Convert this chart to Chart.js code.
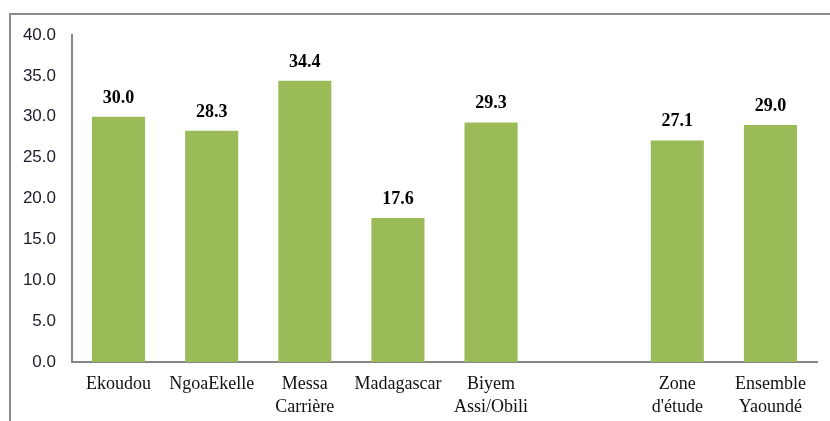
<!DOCTYPE html>
<html>
<head>
<meta charset="utf-8">
<script src="https://cdn.jsdelivr.net/npm/chart.js@4.4.0/dist/chart.umd.min.js"></script>
<style>
  html, body { margin: 0; padding: 0; background: #fff; }
  #wrap { position: relative; width: 830px; height: 421px; overflow: hidden; }
  #frame { position: absolute; left: 9px; top: 13px; width: 840px; height: 430px;
           border-top: 2px solid #8c8c8c; border-left: 2px solid #8c8c8c; }
  #chart { position: absolute; left: 0; top: 0; }
</style>
</head>
<body>
<div id="wrap">
  <div id="frame"></div>
  <canvas id="chart" width="830" height="421"></canvas>
</div>
<script>
// Neighbourhoods (blank slot separates the study zone totals)
const quartiers = [
    ['Ekoudou'],
    ['NgoaEkelle'],
    ['Messa', 'Carrière'],
    ['Madagascar'],
    ['Biyem', 'Assi/Obili'],
    [''],
    ['Zone', "d'étude"],
    ['Ensemble', 'Yaoundé']
];
const valeurs = [30.0, 28.3, 34.4, 17.6, 29.3, null, 27.1, 29.0];

const yMin = 0;
const yMax = 40;
const yStep = 5;

const barColor = '#9bbb59';
const axisColor = '#868686';

// Bold value printed above each bar
const valueLabels = {
    id: 'valueLabels',
    afterDatasetsDraw(chart) {
        const ctx = chart.ctx;
        const meta = chart.getDatasetMeta(0);
        ctx.save();
        ctx.font = 'bold 18px "Liberation Serif", serif';
        ctx.fillStyle = '#000';
        ctx.textAlign = 'center';
        ctx.textBaseline = 'alphabetic';
        meta.data.forEach((bar, i) => {
            const v = valeurs[i];
            if (v === null) return;
            ctx.fillText(v.toFixed(1), bar.x, bar.y - 14);
        });
        ctx.restore();
    }
};

const chart = new Chart(document.getElementById('chart').getContext('2d'), {
    type: 'bar',
    data: {
        labels: quartiers,
        datasets: [{
            data: valeurs,
            backgroundColor: barColor,
            borderWidth: 0,
            barPercentage: 0.57,
            categoryPercentage: 1.0
        }]
    },
    options: {
        responsive: false,
        animation: false,
        layout: {
            padding: { top: 35, right: 13, bottom: 0, left: 0 }
        },
        plugins: {
            legend: { display: false },
            tooltip: { enabled: false }
        },
        scales: {
            x: {
                grid: { display: false, drawTicks: false },
                border: { display: true, color: axisColor, width: 2 },
                ticks: {
                    autoSkip: false,
                    maxRotation: 0,
                    padding: 11,
                    color: '#111',
                    font: { family: '"Liberation Serif", serif', size: 18, lineHeight: 1.28 }
                },
                afterFit(scale) { scale.height = 59; }
            },
            y: {
                min: yMin,
                max: yMax,
                grid: { display: false, drawTicks: false },
                border: { display: true, color: axisColor, width: 2 },
                ticks: {
                    stepSize: yStep,
                    padding: 16,
                    color: '#1c1c2a',
                    font: { family: '"Liberation Sans", sans-serif', size: 17 },
                    callback: function(value) {
                        return value.toFixed(1);
                    }
                },
                afterFit(scale) { scale.width = 72; }
            }
        }
    },
    plugins: [valueLabels]
});
</script>
</body>
</html>
